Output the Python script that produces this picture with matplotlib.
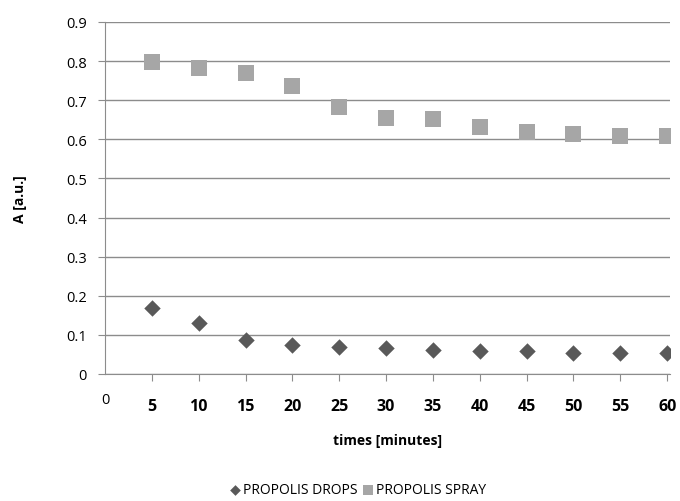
import matplotlib
matplotlib.use('Agg')
import matplotlib.pyplot as plt

plt.rcParams['font.family'] = ['Open Sans', 'DejaVu Sans']

times = [5, 10, 15, 20, 25, 30, 35, 40, 45, 50, 55, 60]
drops = [0.170, 0.130, 0.087, 0.074, 0.069, 0.066, 0.061, 0.058, 0.058, 0.054, 0.054, 0.054]
spray = [0.798, 0.782, 0.770, 0.737, 0.682, 0.655, 0.652, 0.632, 0.619, 0.614, 0.609, 0.609]
yticks = [0, 0.1, 0.2, 0.3, 0.4, 0.5, 0.6, 0.7, 0.8, 0.9]

fig = plt.figure(figsize=(6.8, 5.02), dpi=100)
ax = fig.add_axes([105 / 680, 1 - 375 / 502, 565 / 680, 352 / 502])

ax.scatter(times, drops, marker='D', s=70, color='#595959', label='PROPOLIS DROPS', zorder=3, linewidths=0)
ax.scatter(times, spray, marker='s', s=130, color='#a6a6a6', label='PROPOLIS SPRAY', zorder=3, linewidths=0)

ax.set_xlim(0, 60.3)
ax.set_ylim(0, 0.9)
ax.set_yticks(yticks)
ax.set_yticklabels(['0'] + ['%.1f' % v for v in yticks[1:]], fontsize=10.5)
ax.yaxis.grid(True, color='#8c8c8c', linewidth=1)
ax.set_axisbelow(True)
for s in ['top', 'right']:
    ax.spines[s].set_visible(False)
ax.spines['left'].set_color('#8c8c8c')
ax.spines['bottom'].set_color('#8c8c8c')
ax.tick_params(axis='y', length=5, color='#8c8c8c', pad=8)

ax.set_xticks(times)
ax.set_xticklabels([str(t) for t in times], fontsize=11.5, fontweight='bold')
ax.tick_params(axis='x', length=5, color='#8c8c8c', pad=12)
ax.text(0, -0.045, '0', fontsize=10.5, ha='center', va='top', transform=ax.transData)

ax.set_xlabel('times [minutes]', fontsize=10, fontweight='bold', labelpad=14)
ax.set_ylabel('A [a.u.]', fontsize=10, fontweight='bold', labelpad=28)

fig.legend(loc='center', bbox_to_anchor=(0.524, 1 - 491 / 502), ncol=2, frameon=False,
           fontsize=10, handletextpad=0.0, columnspacing=0.1, markerscale=0.65,
           handlelength=1.2)

plt.savefig('out.png', dpi=100)
plt.close()
